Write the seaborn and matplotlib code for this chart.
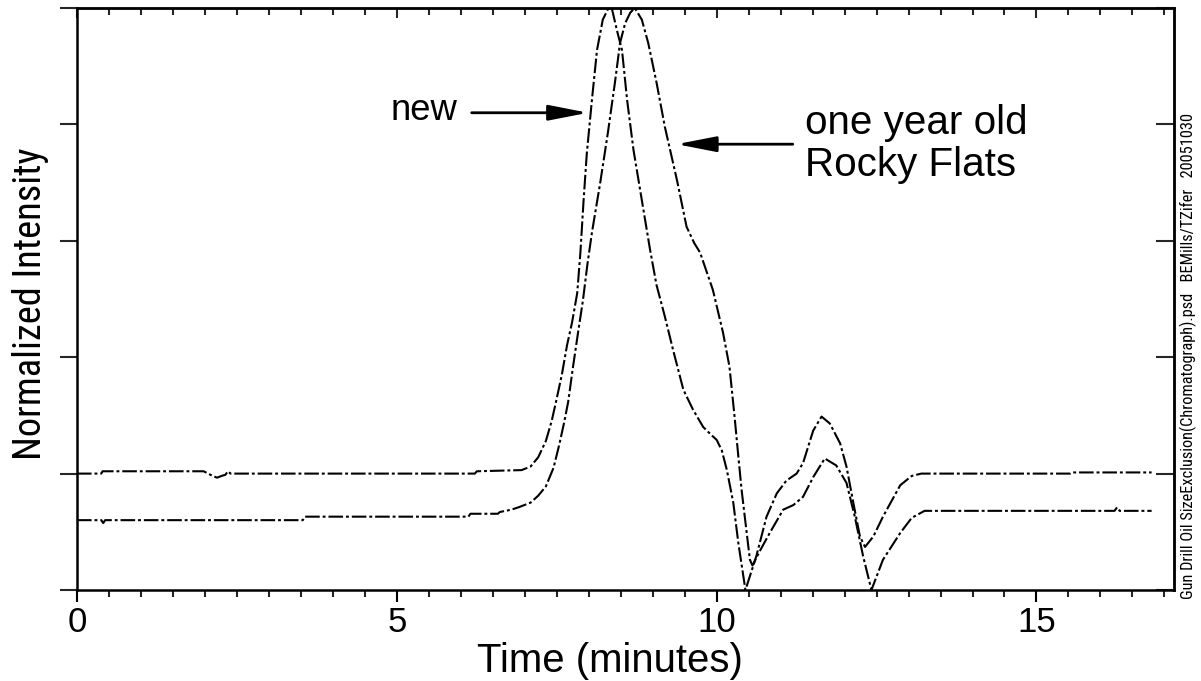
import numpy as np
import pandas as pd
import matplotlib
matplotlib.use("Agg")
import matplotlib.pyplot as plt
import seaborn as sns
from matplotlib import font_manager
from matplotlib.ticker import MultipleLocator, NullFormatter

# ---------------- data ----------------
new_t = [0.0, 0.38, 0.40, 1.98, 2.05, 2.12, 2.19, 2.26, 2.32, 2.36, 2.40, 6.22, 6.25,
         6.95, 7.09, 7.21, 7.33, 7.42, 7.49, 7.58, 7.66, 7.74, 7.82, 7.87, 7.92, 7.97,
         8.05, 8.13, 8.22, 8.30, 8.36, 8.44, 8.52, 8.60, 8.70, 8.83, 8.96, 9.06, 9.19,
         9.32, 9.48, 9.63, 9.79, 9.92, 10.0, 10.08, 10.16, 10.26, 10.34, 10.45, 10.62,
         10.78, 10.94, 11.09, 11.25, 11.35, 11.51, 11.64, 11.77, 11.93, 12.03, 12.14,
         12.24, 12.32, 12.45, 12.60, 12.87, 13.05, 13.20, 15.53, 15.56, 16.80]
new_v = [1.00, 1.00, 1.02, 1.02, 1.00, 0.98, 0.965, 0.98, 0.99, 1.02, 1.00, 1.00, 1.02,
         1.03, 1.06, 1.14, 1.28, 1.45, 1.62, 1.85, 2.10, 2.30, 2.55, 2.90, 3.35, 3.75,
         4.21, 4.64, 4.90, 4.99, 5.00, 4.81, 4.64, 4.21, 3.78, 3.35, 2.92, 2.62, 2.35,
         2.06, 1.72, 1.55, 1.40, 1.33, 1.29, 1.20, 1.03, 0.75, 0.40, 0.00, 0.29,
         0.63, 0.83, 0.94, 1.00, 1.09, 1.37, 1.49, 1.43, 1.26, 1.06, 0.74,
         0.46, 0.37, 0.46, 0.63, 0.90, 0.98, 1.00, 1.00, 1.01, 1.01]

old_t = [0.0, 0.38, 0.41, 0.44, 3.53, 3.56, 6.12, 6.15, 6.58, 6.61, 6.79, 6.90, 7.09,
         7.21, 7.33, 7.45, 7.54, 7.62, 7.68, 7.75, 7.83, 7.91, 7.98, 8.05, 8.18, 8.30,
         8.41, 8.49, 8.57, 8.65, 8.72, 8.83, 8.93, 9.06, 9.19, 9.38, 9.53, 9.65, 9.74,
         9.94, 10.10, 10.20, 10.28, 10.33, 10.39, 10.47, 10.52, 10.56, 10.68, 10.83,
         11.04, 11.20, 11.35, 11.51, 11.69, 11.87, 12.03, 12.16, 12.29, 12.42, 12.60,
         12.87, 13.05, 13.25, 16.22, 16.26, 16.30, 16.80]
old_v = [0.60, 0.60, 0.575, 0.60, 0.60, 0.63, 0.63, 0.655, 0.655, 0.67, 0.69, 0.71, 0.75,
         0.81, 0.89, 1.05, 1.25, 1.45, 1.62, 1.90, 2.20, 2.49, 2.80, 3.07, 3.50, 3.93,
         4.36, 4.70, 4.87, 4.96, 5.00, 4.90, 4.70, 4.36, 3.98, 3.52, 3.12, 2.98, 2.90,
         2.58, 2.21, 1.92, 1.49, 1.20, 0.86, 0.49, 0.26, 0.21, 0.34, 0.49,
         0.69, 0.73, 0.80, 0.97, 1.13, 1.07, 0.92, 0.63, 0.29, 0.00, 0.26,
         0.49, 0.62, 0.68, 0.68, 0.71, 0.68, 0.68]

x_major = [0, 5, 10, 15]
x_labels = ["0", "5", "10", "15"]
y_major = [0, 1, 2, 3, 4, 5]

xlabel = "Time (minutes)"
ylabel = "Normalized Intensity"
label_new = "new"
label_old = ["one year old", "Rocky Flats"]
side_note = "Gun Drill Oil SizeExclusion(Chromatograph).psd   BEMills/TZifer   20051030"

# ---------------- style ----------------
sns.set_theme(style="white")
fm = font_manager.fontManager
avail = {f.name for f in fm.ttflist}
base = "Liberation Sans" if "Liberation Sans" in avail else "DejaVu Sans"
narrow = None
for cand in ["Liberation Sans Narrow", "Arial Narrow", "Roboto Condensed",
             "Open Sans Condensed", "Noto Sans Condensed", "DejaVu Sans Condensed"]:
    if cand in avail:
        narrow = cand
        break
narrow_stretch = "normal"
if narrow is None:
    if any(f.name == "DejaVu Sans" and f.stretch == "condensed" for f in fm.ttflist):
        narrow, narrow_stretch = "DejaVu Sans", "condensed"
    else:
        narrow = base
plt.rcParams["font.family"] = [base, "DejaVu Sans"]

W, H = 1201, 681
fig = plt.figure(figsize=(W / 100, H / 100), dpi=100)
fig.patch.set_facecolor("white")
L, R, T, B = 77, 1174, 8, 590
ax = fig.add_axes([L / W, 1 - B / H, (R - L) / W, (B - T) / H])
ax.set_facecolor("white")

df_new = pd.DataFrame({"t": new_t, "v": new_v})
df_old = pd.DataFrame({"t": old_t, "v": old_v})
dash = (0, (7, 1.4, 1.4, 1.4))
for d in (df_new, df_old):
    sns.lineplot(data=d, x="t", y="v", ax=ax, color="black", lw=1.5,
                 linestyle=dash, estimator=None, sort=False, legend=False)

ax.set_xlim(0, 17.15)
ax.set_ylim(0, 5)
ax.set_xlabel("")
ax.set_ylabel("")

for s in ax.spines.values():
    s.set_visible(True)
    s.set_color("black")
    s.set_linewidth(1.8)

ax.set_xticks(x_major)
ax.set_xticklabels(x_labels)
ax.xaxis.set_minor_locator(MultipleLocator(0.5))
ax.tick_params(axis="x", which="major", direction="out", length=8.5, width=1.5,
               bottom=True, top=False, labelsize=25, pad=3, colors="black")
ax.tick_params(axis="x", which="minor", direction="out", length=5, width=1.5,
               bottom=True, top=False)
ax.set_yticks(y_major)
ax.tick_params(axis="y", which="major", direction="out", length=12, width=1.5,
               left=True, right=False, labelleft=False)

sx = ax.secondary_xaxis("top")
sx.set_xticks(x_major)
sx.xaxis.set_minor_locator(MultipleLocator(0.5))
sx.xaxis.set_major_formatter(NullFormatter())
sx.tick_params(axis="x", which="major", direction="in", length=7, width=1.5)
sx.tick_params(axis="x", which="minor", direction="in", length=5, width=1.5)
sx.spines["top"].set_linewidth(1.8)

sy = ax.secondary_yaxis("right")
sy.set_yticks(y_major)
sy.yaxis.set_major_formatter(NullFormatter())
sy.tick_params(axis="y", which="major", direction="in", length=13, width=1.5)
sy.spines["right"].set_linewidth(1.8)

# annotations
t_new = ax.text(5.95, 4.04, label_new, ha="right", va="baseline", fontsize=26,
                color="black")
ax.annotate("", xy=(7.99, 4.10), xytext=(6.17, 4.10),
            arrowprops=dict(arrowstyle="-|>,head_length=2.4,head_width=0.47",
                            color="black", lw=2, mutation_scale=10,
                            shrinkA=0, shrinkB=0))
t_old = ax.text(11.38, 3.83, "\n".join(label_old), ha="left", va="center",
                fontsize=26, color="black", linespacing=1.15)
ax.annotate("", xy=(9.375, 3.83), xytext=(11.19, 3.83),
            arrowprops=dict(arrowstyle="-|>,head_length=2.4,head_width=0.47",
                            color="black", lw=2, mutation_scale=10,
                            shrinkA=0, shrinkB=0))

# axis labels
t_x = fig.text(610 / W, 1 - 661 / H, xlabel, ha="center", va="center", fontsize=28,
               color="black")
t_y = fig.text(31 / W, 1 - 304 / H, ylabel, ha="center", va="center", rotation=90,
               fontsize=26, color="black", family=[narrow, "DejaVu Sans"],
               stretch=narrow_stretch)
t_s = fig.text(1188 / W, 1 - 599 / H, side_note, ha="center", va="bottom", rotation=90,
               fontsize=11, color="black", family=[narrow, "DejaVu Sans"],
               stretch=narrow_stretch)

# fit text sizes to the measured extents of the reference (pixels)
fig.canvas.draw()
rend = fig.canvas.get_renderer()
targets = [(t_x, "w", 266), (t_y, "h", 312), (t_s, "h", 487),
           (t_new, "w", 67), (t_old, "w", 222)]
for txt, dim, target in targets:
    bb = txt.get_window_extent(rend)
    cur = bb.width if dim == "w" else bb.height
    if cur > 0:
        txt.set_fontsize(txt.get_fontsize() * target / cur)

fig.savefig("out.png", dpi=100, facecolor="white")
